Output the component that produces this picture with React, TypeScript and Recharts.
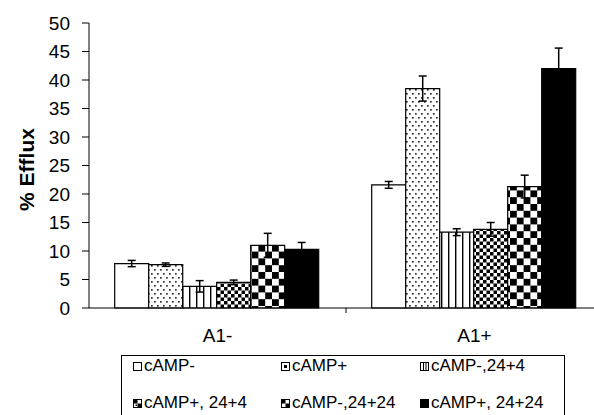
import React from 'react';
import { BarChart, Bar, XAxis, YAxis, ErrorBar, Label } from 'recharts';

const categories = ['A1-', 'A1+'];
const seriesNames = ['cAMP-', 'cAMP+', 'cAMP-,24+4', 'cAMP+, 24+4', 'cAMP-,24+24', 'cAMP+, 24+24'];
const camp_minus = [7.8, 21.6];
const camp_plus = [7.6, 38.5];
const camp_minus_24_4 = [3.8, 13.3];
const camp_plus_24_4 = [4.5, 13.8];
const camp_minus_24_24 = [11.0, 21.3];
const camp_plus_24_24 = [10.3, 42.0];
const err_camp_minus = [0.55, 0.6];
const err_camp_plus = [0.3, 2.2];
const err_camp_minus_24_4 = [1.0, 0.6];
const err_camp_plus_24_4 = [0.4, 1.2];
const err_camp_minus_24_24 = [2.1, 2.0];
const err_camp_plus_24_24 = [1.2, 3.6];
const yTicks = [0, 5, 10, 15, 20, 25, 30, 35, 40, 45, 50];

const seriesValues = [camp_minus, camp_plus, camp_minus_24_4, camp_plus_24_4, camp_minus_24_24, camp_plus_24_24];
const seriesErrors = [err_camp_minus, err_camp_plus, err_camp_minus_24_4, err_camp_plus_24_4, err_camp_minus_24_24, err_camp_plus_24_24];
const fills = ['#ffffff', 'url(#patDots)', 'url(#patStripes)', 'url(#patSmallCheck)', 'url(#patBigCheck)', '#000000'];

const data = categories.map((name, i) => {
  const row: Record<string, any> = { name };
  seriesValues.forEach((vals, s) => {
    row['s' + s] = vals[i];
    row['e' + s] = seriesErrors[s][i];
  });
  return row;
});

const FONT = 'Arial, "Liberation Sans", sans-serif';

const XTick = (props: any) => {
  const { x, y, payload } = props;
  const half = payload && payload.offset ? payload.offset : 128.5;
  return (
    <g>
      <line x1={x + half} y1={y - 8} x2={x + half} y2={y - 3} stroke="#000" strokeWidth={1} />
      <text x={x} y={y + 26} textAnchor="middle" fontSize={19} fontFamily={FONT} fill="#000">
        {payload.value}
      </text>
    </g>
  );
};

const LegendMarker = ({ idx }: { idx: number }) => {
  const s = 9;
  let inner: React.ReactNode = null;
  if (idx === 1) inner = <rect x={3} y={3} width={3} height={3} fill="#000" />;
  if (idx === 2) inner = (<g><line x1={3.5} y1={0} x2={3.5} y2={s} stroke="#000" strokeWidth={1} /><line x1={6} y1={0} x2={6} y2={s} stroke="#000" strokeWidth={1} /></g>);
  if (idx === 3) inner = (<g><rect x={1} y={1} width={3.5} height={3.5} fill="#000" /><rect x={4.5} y={4.5} width={3.5} height={3.5} fill="#000" /><rect x={2.5} y={5.5} width={1.5} height={1.5} fill="#000" /></g>);
  if (idx === 4) inner = (<g><rect x={0.5} y={0.5} width={4} height={4} fill="#000" /><rect x={4.5} y={4.5} width={4} height={4} fill="#000" /></g>);
  return (
    <svg width={s} height={s} style={{ display: 'block' }}>
      <rect x={0.5} y={0.5} width={s - 1} height={s - 1} fill={idx === 5 ? '#000' : '#fff'} stroke="#000" strokeWidth={1} />
      {inner}
    </svg>
  );
};

const legendCols = [133, 281, 420];
const legendRows = [366, 403];

export default function App() {
  return (
    <div style={{ position: 'absolute', left: 0, top: 0, width: 594, height: 415, overflow: 'hidden', background: '#fff' }}>
      <BarChart
        width={620}
        height={415}
        data={data}
        margin={{ top: 23, right: 17, left: 0, bottom: 77 }}
        barCategoryGap="10%"
        barGap={0}
      >
        <defs>
          <pattern id="patDots" patternUnits="userSpaceOnUse" width={6} height={8}>
            <rect width={6} height={8} fill="#fff" />
            <rect x={1} y={1} width={1.7} height={1.7} fill="#333" />
            <rect x={4} y={5} width={1.7} height={1.7} fill="#333" />
          </pattern>
          <pattern id="patStripes" patternUnits="userSpaceOnUse" width={7} height={7}>
            <rect width={7} height={7} fill="#fff" />
            <rect x={0} y={0} width={1.4} height={7} fill="#000" />
          </pattern>
          <pattern id="patSmallCheck" patternUnits="userSpaceOnUse" width={7} height={7}>
            <rect width={7} height={7} fill="#fff" />
            <rect x={0} y={0} width={3.5} height={3.5} fill="#000" />
            <rect x={3.5} y={3.5} width={3.5} height={3.5} fill="#000" />
          </pattern>
          <pattern id="patBigCheck" patternUnits="userSpaceOnUse" width={13.6} height={13.6}>
            <rect width={13.6} height={13.6} fill="#fff" />
            <rect x={0} y={0} width={6.8} height={6.8} fill="#000" />
            <rect x={6.8} y={6.8} width={6.8} height={6.8} fill="#000" />
          </pattern>
        </defs>
        <XAxis
          dataKey="name"
          height={30}
          axisLine={{ stroke: '#000', strokeWidth: 1 }}
          tickLine={false}
          tick={<XTick />}
          interval={0}
        />
        <YAxis
          width={89}
          domain={[0, 50]}
          ticks={yTicks}
          interval={0}
          axisLine={{ stroke: '#000', strokeWidth: 1 }}
          tickLine={{ stroke: '#000', strokeWidth: 1 }}
          tickSize={7}
          tickMargin={12}
          tick={{ fontSize: 19, fontFamily: FONT, fill: '#000' }}
        >
          <Label
            content={(p: any) => {
              const vb = p.viewBox || { x: 0, y: 23, width: 89, height: 285 };
              const cx = 26;
              const cy = vb.y + vb.height / 2 + 4;
              return (
                <text x={cx} y={cy} transform={`rotate(-90, ${cx}, ${cy})`} textAnchor="middle" dominantBaseline="central" fontSize={21} fontWeight="bold" fontFamily={FONT} fill="#000">
                  % Efflux
                </text>
              );
            }}
          />
        </YAxis>
        {seriesNames.map((n, s) => (
          <Bar key={n} dataKey={'s' + s} name={n} fill={fills[s]} stroke="#000" strokeWidth={1.2} isAnimationActive={false}>
            <ErrorBar dataKey={'e' + s} width={4} stroke="#000" strokeWidth={1.5} direction="y" />
          </Bar>
        ))}
      </BarChart>
      <div style={{ position: 'absolute', left: 121, top: 355, width: 444, height: 80, border: '1px solid #000', boxSizing: 'border-box', background: '#fff' }} />
      {seriesNames.map((n, s) => {
        const col = s % 3;
        const row = Math.floor(s / 3);
        return (
          <div key={n} style={{ position: 'absolute', left: legendCols[col], top: legendRows[row] - 10, height: 20, display: 'flex', alignItems: 'center', fontFamily: FONT, fontSize: 17, color: '#000', whiteSpace: 'nowrap' }}>
            <LegendMarker idx={s} />
            <span style={{ marginLeft: 2 }}>{n}</span>
          </div>
        );
      })}
    </div>
  );
}
